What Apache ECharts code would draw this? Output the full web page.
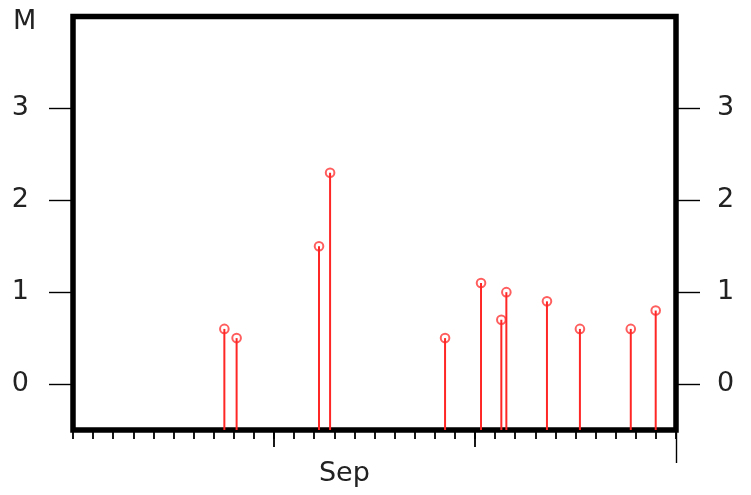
<!DOCTYPE html>
<html>
<head>
<meta charset="utf-8">
<script src="https://cdn.jsdelivr.net/npm/echarts@6/dist/echarts.min.js"></script>
<style>
  html, body { margin: 0; padding: 0; background: #fff; }
  #chart { width: 751px; height: 495px; }
</style>
</head>
<body>
<div id="chart"></div>
<script>
// event times, in days relative to 1 Sep (negative = late August)
const eventDays = [-2.47, -1.86, 2.24, 2.79, 8.51, 10.30, 11.31, 11.56, 13.58, 15.22, 17.75, 18.99];
// magnitudes (M)
const magnitudes = [0.6, 0.5, 1.5, 2.3, 0.5, 1.1, 0.7, 1.0, 0.9, 0.6, 0.6, 0.8];
const yTicks = [0, 1, 2, 3];
const monthTicks = [0, 10];
const endTick = [20];
const monthLabelPos = [3.5];
const monthLabel = 'Sep';

const dayMin = -10, dayMax = 20;
const magMin = -0.5, magMax = 4;

const font = 'DejaVu Sans';
const chart = echarts.init(document.getElementById('chart'));

const points = eventDays.map((d, i) => [d, magnitudes[i]]);

const xTickStyle = { color: '#000', width: 1.8 };
const yTickStyle = { color: '#000', width: 1.4 };

function xAxisBase() {
  return {
    type: 'value', min: dayMin, max: dayMax, position: 'bottom',
    axisLine: { show: false, onZero: false }, splitLine: { show: false },
    axisLabel: { show: false }
  };
}

function yAxisBase(pos) {
  return {
    type: 'value', min: magMin, max: magMax, position: pos,
    axisLine: { show: false, onZero: false }, splitLine: { show: false },
    axisTick: { show: true, length: 24, customValues: yTicks, lineStyle: yTickStyle },
    axisLabel: {
      show: true, customValues: yTicks, margin: pos === 'left' ? 44 : 41,
      fontFamily: font, fontSize: 27, color: '#222'
    }
  };
}

chart.setOption({
  animation: false,
  title: {
    text: 'M', left: 8, top: 3,
    textStyle: { fontFamily: font, fontSize: 27, fontWeight: 'normal', color: '#222' }
  },
  grid: {
    left: 73, right: 75, top: 16.5, bottom: 65,
    show: true, borderColor: '#000', borderWidth: 5.5, backgroundColor: 'transparent'
  },
  xAxis: [
    Object.assign(xAxisBase(), {
      interval: 1,
      axisTick: { show: true, length: 9, lineStyle: xTickStyle }
    }),
    Object.assign(xAxisBase(), {
      axisTick: { show: true, length: 17, customValues: monthTicks, lineStyle: xTickStyle },
      axisLabel: {
        show: true, customValues: monthLabelPos, margin: 30,
        formatter: () => monthLabel,
        fontFamily: font, fontSize: 27, color: '#222'
      }
    }),
    Object.assign(xAxisBase(), {
      axisTick: { show: true, length: 33, customValues: endTick, lineStyle: yTickStyle }
    })
  ],
  yAxis: [yAxisBase('left'), yAxisBase('right')],
  series: [{
    type: 'custom',
    xAxisIndex: 0,
    yAxisIndex: 0,
    data: points,
    renderItem: function (params, api) {
      const top = api.coord([api.value(0), api.value(1)]);
      const base = api.coord([api.value(0), magMin]);
      return {
        type: 'group',
        children: [{
          type: 'line',
          shape: { x1: base[0], y1: base[1], x2: top[0], y2: top[1] },
          style: { stroke: '#ff2626', lineWidth: 2 }
        }, {
          type: 'circle',
          shape: { cx: top[0], cy: top[1], r: 4.3 },
          style: { fill: 'none', stroke: 'rgba(255,40,40,0.75)', lineWidth: 2 }
        }]
      };
    }
  }]
});
</script>
</body>
</html>
